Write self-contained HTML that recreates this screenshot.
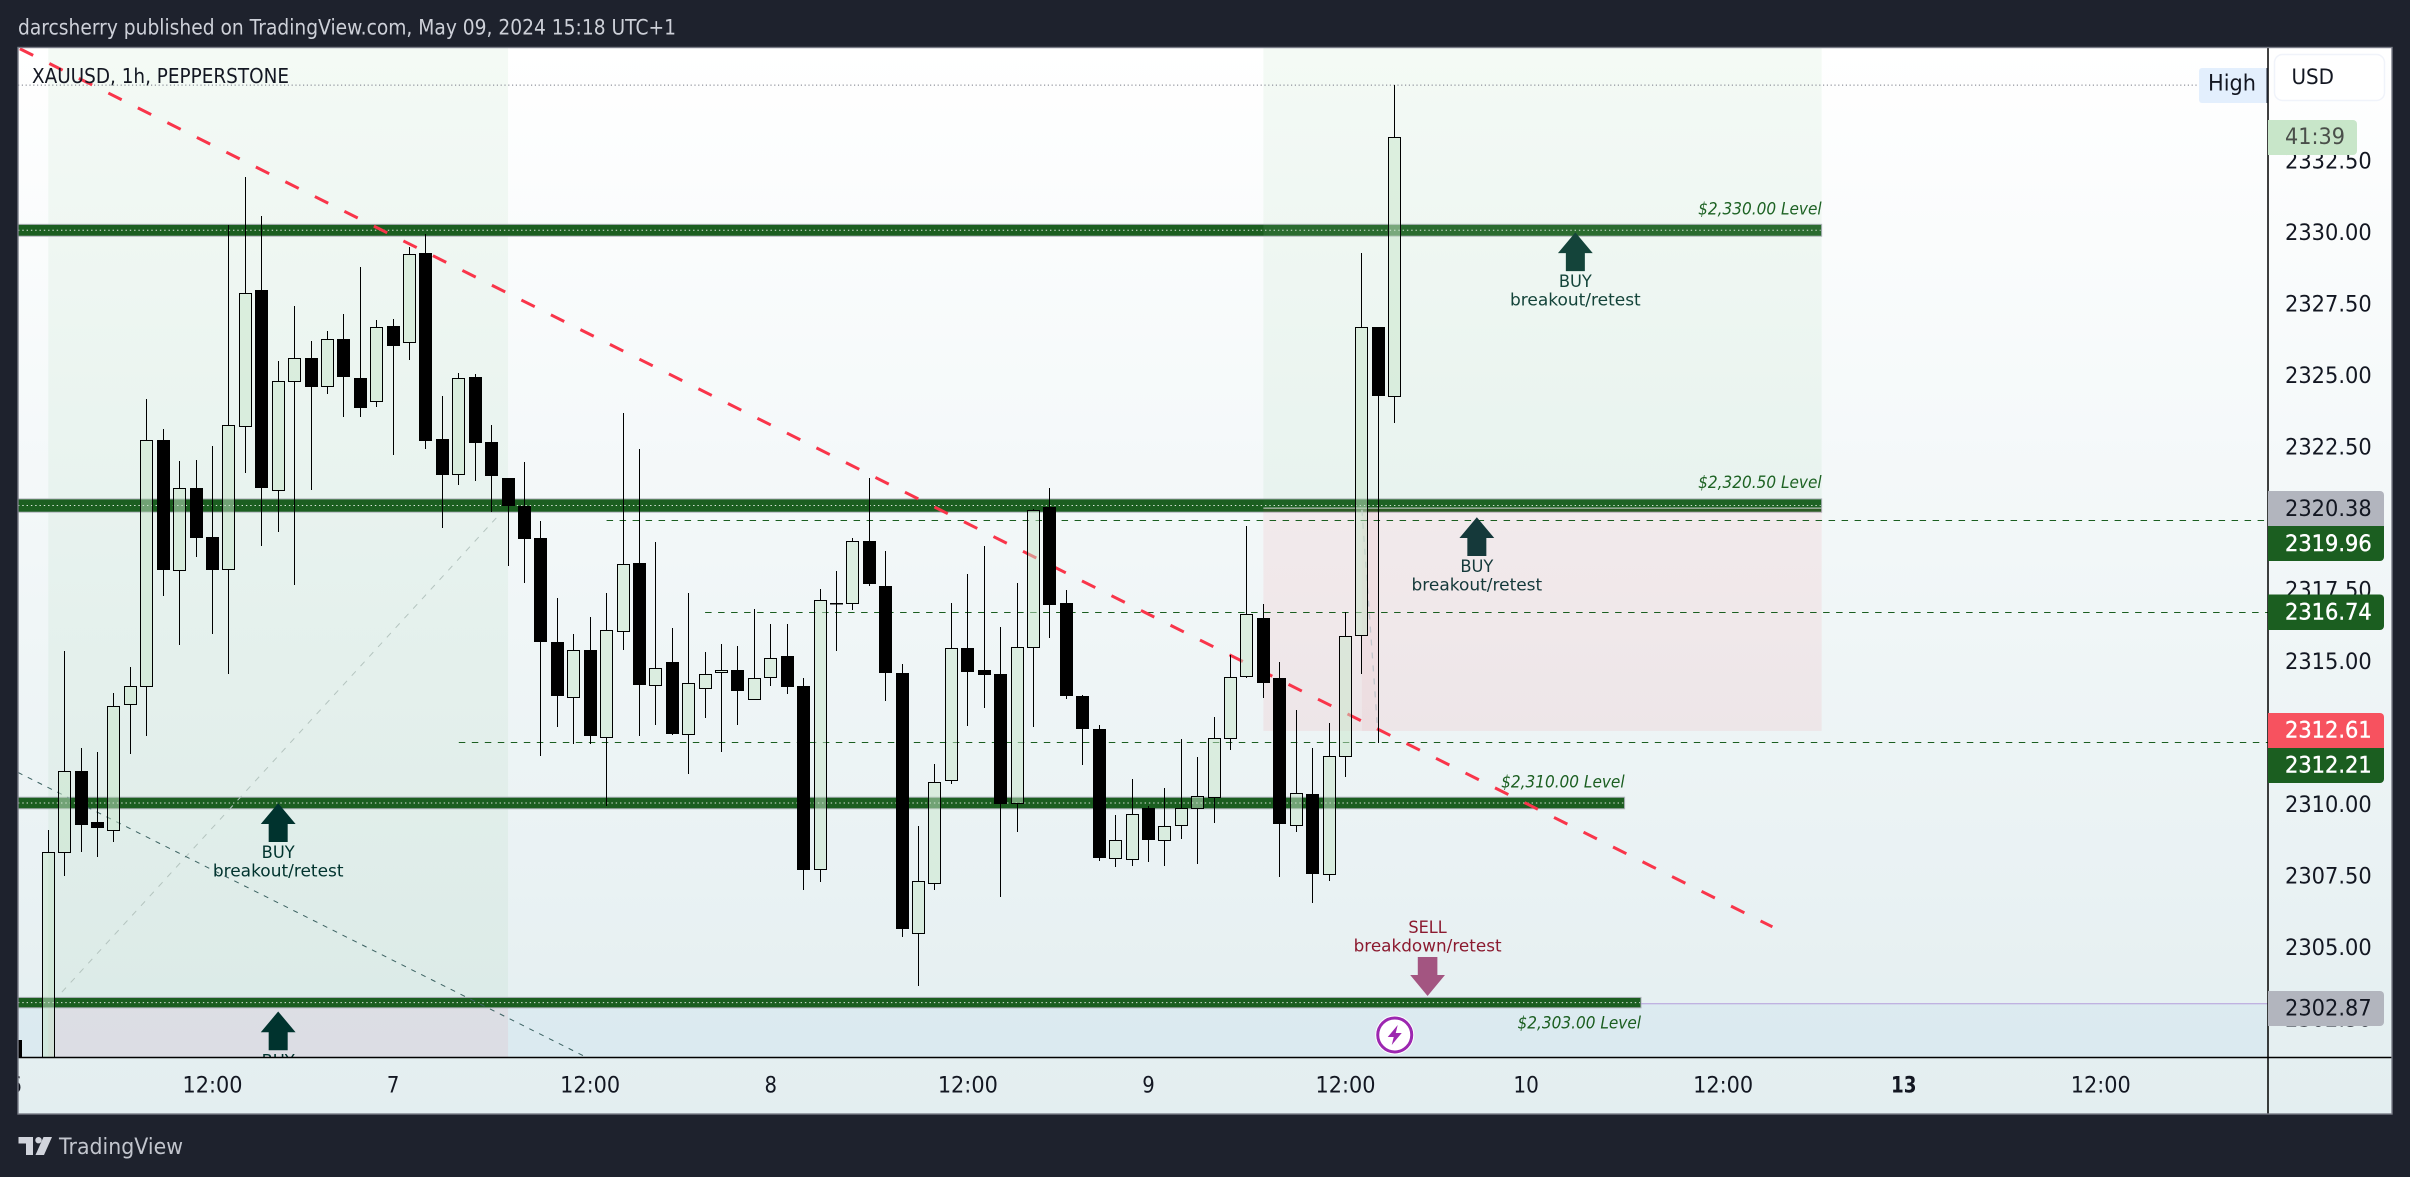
<!DOCTYPE html>
<html lang="en">
<head>
<meta charset="utf-8">
<title>XAUUSD 1h chart</title>
<style>
html,body{margin:0;padding:0;background:#1e222d;width:2410px;height:1177px;overflow:hidden}
svg{display:block}
text{font-family:"DejaVu Sans","Liberation Sans",sans-serif;dominant-baseline:central}
</style>
</head>
<body>
<svg id="chart" xmlns="http://www.w3.org/2000/svg" width="2410" height="1177" viewBox="0 0 2410 1177">
  <defs>
    <linearGradient id="bgGrad" gradientUnits="userSpaceOnUse" x1="0" y1="47" x2="0" y2="1114">
      <stop offset="0" stop-color="#ffffff"/>
      <stop offset="1" stop-color="#e3eef0"/>
    </linearGradient>
    <clipPath id="plotClip"><rect x="18.5" y="48" width="2249.5" height="1009"/></clipPath>
    <clipPath id="frameClip"><rect x="18.5" y="48" width="2373" height="1066"/></clipPath>
  </defs>

  <rect x="0" y="0" width="2410" height="1177" fill="#1e222d"/>
  <text x="18" y="27.5" font-size="21" fill="#cdd0d8" textLength="658" lengthAdjust="spacingAndGlyphs">darcsherry published on TradingView.com, May 09, 2024 15:18 UTC+1</text>
  <rect x="18" y="47.5" width="2374" height="1066.5" fill="url(#bgGrad)"/>

  <g id="plot" clip-path="url(#plotClip)"></g>
  <g id="axes" clip-path="url(#frameClip)"></g>

  <line x1="2268" y1="47.5" x2="2268" y2="1114" stroke="#000" stroke-width="1.5"/>
  <line x1="18" y1="1057.5" x2="2392" y2="1057.5" stroke="#000" stroke-width="1.5"/>

  <g>
    <rect x="2199" y="68" width="69" height="35" rx="3" fill="#e3effd"/>
    <text x="2208" y="84" font-size="22" fill="#131722" textLength="48" lengthAdjust="spacingAndGlyphs">High</text>
    <rect x="2266.5" y="68" width="1.5" height="35" fill="#1e222d"/>
  </g>
  <g>
    <rect x="2274.5" y="54.5" width="110" height="46" rx="8" fill="#fff" stroke="#f0f3fa" stroke-width="1.5"/>
    <text x="2291.5" y="77" font-size="21" fill="#131722" textLength="42.5" lengthAdjust="spacingAndGlyphs">USD</text>
  </g>

  <g id="ticks"></g>

  <g>
    <path d="M2268 120H2353a4 4 0 0 1 4 4V151a4 4 0 0 1-4 4H2268Z" fill="#c8e6c9"/>
    <text x="2285" y="137.5" font-size="22" fill="#4a4f4a" textLength="60" lengthAdjust="spacingAndGlyphs">41:39</text>
  </g>

  <g>
    <path d="M2268 491H2380a4 4 0 0 1 4 4V526H2268Z" fill="#b2b5be"/>
    <text x="2285" y="509" font-size="22.5" fill="#131722" textLength="86.7" lengthAdjust="spacingAndGlyphs">2320.38</text>
  </g>
  <g>
    <path d="M2268 526H2384V557a4 4 0 0 1-4 4H2268Z" fill="#1b5e20"/>
    <text x="2285" y="544" font-size="22.5" fill="#fff" stroke="#fff" stroke-width=".4" textLength="86.7" lengthAdjust="spacingAndGlyphs">2319.96</text>
  </g>
  <g>
    <path d="M2268 594.5H2380a4 4 0 0 1 4 4V626a4 4 0 0 1-4 4H2268Z" fill="#1b5e20"/>
    <text x="2285" y="612.5" font-size="22.5" fill="#fff" stroke="#fff" stroke-width=".4" textLength="86.7" lengthAdjust="spacingAndGlyphs">2316.74</text>
  </g>
  <g>
    <path d="M2268 713H2380a4 4 0 0 1 4 4V748H2268Z" fill="#f7525f"/>
    <text x="2285" y="730.5" font-size="22.5" fill="#fff" stroke="#fff" stroke-width=".4" textLength="86.7" lengthAdjust="spacingAndGlyphs">2312.61</text>
  </g>
  <g>
    <path d="M2268 748H2384V779a4 4 0 0 1-4 4H2268Z" fill="#1b5e20"/>
    <text x="2285" y="765.5" font-size="22.5" fill="#fff" stroke="#fff" stroke-width=".4" textLength="86.7" lengthAdjust="spacingAndGlyphs">2312.21</text>
  </g>
  <g>
    <path d="M2268 991H2380a4 4 0 0 1 4 4V1022a4 4 0 0 1-4 4H2268Z" fill="#b2b5be"/>
    <text x="2285" y="1008.5" font-size="22.5" fill="#131722" textLength="86.7" lengthAdjust="spacingAndGlyphs">2302.87</text>
  </g>

  <rect x="18" y="47.5" width="2374" height="1066.5" fill="none" stroke="#787b86" stroke-width="1.4"/>

  <g>
    <path d="M18.5 1137H33V1155H26V1143.5H18.5Z" fill="#d1d4dc"/>
    <circle cx="38.5" cy="1140.2" r="3.2" fill="#d1d4dc"/>
    <path d="M43.5 1137H52L44 1155H35.5Z" fill="#d1d4dc"/>
    <text x="59" y="1147" font-size="22.5" fill="#c2c5cd" textLength="124" lengthAdjust="spacingAndGlyphs">TradingView</text>
  </g>
</svg>

<script>
// ---- OHLC series (one entry per hourly bar) ----
const opens = [
2301.71,2299.60,2300.00,2308.30,2311.12,2309.34,2309.05,2313.45,2314.08,2322.69,
2318.13,2321.03,2319.29,2318.17,2323.17,2327.94,2320.96,2324.75,2325.56,2324.57,
2326.23,2324.86,2324.05,2326.68,2326.11,2329.23,2322.73,2321.50,2324.90,2322.63,
2321.37,2320.39,2319.27,2315.63,2313.70,2315.34,2312.30,2316.00,2318.39,2314.11,
2314.94,2312.43,2314.01,2314.57,2314.65,2313.65,2314.39,2315.15,2314.09,2307.68,
2316.99,2316.99,2319.16,2317.59,2314.55,2305.44,2307.22,2310.80,2315.42,2314.65,
2314.51,2309.99,2315.45,2320.35,2317.00,2313.74,2312.59,2308.07,2308.03,2309.82,
2308.72,2309.22,2309.82,2310.22,2312.27,2314.43,2316.47,2314.37,2309.22,2310.32,
2307.51,2311.64,2315.87,2326.65,2324.22];
const highs = [
2301.71,2300.20,2309.06,2315.30,2311.91,2311.78,2313.84,2314.75,2324.13,2323.08,
2321.95,2322.00,2322.48,2330.21,2331.88,2330.53,2325.46,2327.38,2326.16,2326.51,
2327.10,2328.74,2326.89,2326.93,2329.44,2329.90,2324.23,2325.04,2325.00,2323.22,
2321.37,2321.93,2319.86,2317.17,2315.91,2316.50,2317.35,2323.64,2322.38,2319.13,
2316.12,2317.35,2315.28,2315.56,2315.50,2316.79,2316.26,2316.25,2314.36,2317.49,
2318.11,2319.27,2321.37,2318.81,2314.86,2309.19,2311.35,2317.00,2318.01,2318.99,
2316.16,2317.70,2320.28,2321.02,2317.45,2313.78,2312.73,2309.58,2310.83,2309.91,
2310.53,2312.24,2311.61,2313.01,2315.19,2319.68,2316.96,2314.93,2313.24,2311.92,
2312.79,2316.67,2329.23,2326.65,2335.10];
const lows = [
2299.50,2299.20,2299.50,2307.46,2308.29,2308.12,2308.65,2311.71,2312.35,2317.24,
2315.51,2318.61,2315.92,2314.52,2321.54,2318.97,2319.48,2317.61,2320.95,2324.31,
2323.51,2323.48,2323.86,2322.16,2325.50,2322.39,2319.62,2321.13,2321.27,2320.18,
2318.30,2317.70,2311.66,2312.67,2312.08,2312.08,2309.88,2315.36,2312.33,2312.74,
2312.37,2311.00,2312.98,2311.80,2312.74,2313.65,2314.10,2313.82,2306.97,2307.25,
2315.32,2316.76,2317.59,2313.58,2305.30,2303.60,2306.97,2310.67,2312.70,2313.32,
2306.73,2309.00,2312.64,2315.78,2313.62,2311.33,2307.96,2307.77,2307.81,2307.95,
2307.81,2308.75,2307.85,2309.31,2311.87,2314.38,2313.68,2307.41,2309.00,2306.51,
2307.28,2310.92,2314.52,2312.11,2323.30];
const closes = [
2300.00,2299.90,2308.28,2311.11,2309.24,2309.14,2313.38,2314.08,2322.68,2318.13,
2321.03,2319.28,2318.15,2323.21,2327.82,2321.02,2324.75,2325.55,2324.56,2326.22,
2324.91,2323.82,2326.64,2325.99,2329.19,2322.67,2321.47,2324.85,2322.60,2321.45,
2320.39,2319.24,2315.64,2313.73,2315.34,2312.33,2316.04,2318.34,2314.14,2314.71,
2312.43,2314.18,2314.50,2314.64,2313.90,2314.37,2315.06,2314.06,2307.66,2317.09,
2316.97,2319.15,2317.64,2314.56,2305.60,2307.27,2310.72,2315.41,2314.59,2314.48,
2309.98,2315.45,2320.24,2316.93,2313.74,2312.57,2308.09,2308.72,2309.60,2308.72,
2309.18,2309.82,2310.23,2312.27,2314.40,2316.60,2314.21,2309.28,2310.34,2307.53,
2311.64,2315.83,2326.64,2324.24,2333.28];

// ---- axis labels ----
const priceTicks = [2332.5,2330,2327.5,2325,2322.5,2320,2317.5,2315,2312.5,2310,2307.5,2305,2302.5];
const timeLabels = ['6','12:00','7','12:00','8','12:00','9','12:00','10','12:00','13','12:00'];
const timeBars = [0,12,23,35,46,58,69,81,92,104,115,127];

// ---- horizontal level zones (prices and end bars) ----
const bandTops = [2330.25,2320.65,2310.22,2303.22];
const bandBottoms = [2329.80,2320.15,2309.78,2302.82];
const bandEndBars = [110,110,98,99];
const levelTexts = ['$2,330.00 Level','$2,320.50 Level','$2,310.00 Level','$2,303.00 Level'];
const levelTextPrices = [2330.77,2321.20,2310.73,2302.31];

// ---- shaded zones ----
const zoneStartBars = [2,2];
const zoneEndBars = [30,110];

// ---- dashed price lines ----
const dashedPrices = [2319.88,2316.67,2312.13];
const dashedStartBars = [36,42,27];

// ---- trend lines: [bar, price] endpoints ----
const redTrendBars = [-1.53,107];
const redTrendPrices = [2336.89,2305.67];
const darkTrendBars = [0.15,34.56];
const darkTrendPrices = [2311.07,2301.17];
const grayTrendBars = [2.83,29.35];
const grayTrendPrices = [2303.39,2320.01];
const curveTrendBars = [82,82.93];
const curveTrendPrices = [2320.25,2312.80];

// ---- arrows ----
const buyArrowBars = [16,16,89,95];
const buyArrowPrices = [2309.99,2302.71,2319.99,2329.95];
const buyArrowColors = ['#00332e','#00332e','#15393a','#14443a'];
const sellArrowBar = 86;
const sellArrowPrice = 2303.25;
const alertBar = 84;
const alertPrice = 2301.89;

// ---- axis functions ----
function xAt(bar){ return 15.46 + 16.42 * bar; }
function yAt(price){ return 803 - (price - 2310) * 28.6; }

const NS = 'http://www.w3.org/2000/svg';
const plot = document.getElementById('plot');
const axes = document.getElementById('axes');
const ticks = document.getElementById('ticks');
function mk(tag, attrs, parent, txt){
  const e = document.createElementNS(NS, tag);
  for (const k in attrs) e.setAttribute(k, attrs[k]);
  if (txt !== undefined) e.textContent = txt;
  parent.appendChild(e);
  return e;
}
let el;

// bottom tint below the purple level
el = mk('rect',{x:18,y:yAt(2302.98),width:2250,height:60,fill:'rgba(33,150,243,.05)'},plot);



// left zones (under bands)
el = mk('rect',{x:xAt(zoneStartBars[0]),y:40,width:xAt(zoneEndBars[0])-xAt(zoneStartBars[0]),height:yAt(2303.04)-40,fill:'rgba(76,175,80,.06)'},plot);


el = mk('rect',{x:xAt(zoneStartBars[0]),y:yAt(2303.04),width:xAt(zoneEndBars[0])-xAt(zoneStartBars[0]),height:70,fill:'rgba(242,54,69,.07)'},plot);



// level bands
bandTops.forEach(function(top,i){
  const yt = yAt(top), yb = yAt(bandBottoms[i]), xe = xAt(bandEndBars[i]);
  el = mk('rect',{x:0,y:yt+.5,width:xe,height:yb-yt-1,fill:'#1b5e20',stroke:'#b2b5be','stroke-width':1},plot);
  
  
  el = mk('line',{x1:18,x2:xe-1,y1:(yt+yb)/2,y2:(yt+yb)/2,stroke:'#ffffff','stroke-opacity':.85,'stroke-width':1,'stroke-dasharray':'1.4 2.9'},plot);
  
  
  el = mk('text',{x:xe,y:yAt(levelTextPrices[i]),'text-anchor':'end','font-size':16.5,'font-style':'italic',fill:'#1b5e20',textLength:123.5,lengthAdjust:'spacingAndGlyphs'},plot,levelTexts[i]);
  
  
});

// right zones (over bands)
el = mk('rect',{x:xAt(76),y:40,width:xAt(zoneEndBars[1])-xAt(76),height:yAt(2320.31)-40,fill:'rgba(76,175,80,.06)'},plot);


el = mk('rect',{x:xAt(76),y:yAt(2320.31),width:xAt(zoneEndBars[1])-xAt(76),height:yAt(2312.52)-yAt(2320.31),fill:'rgba(242,54,69,.07)'},plot);


el = mk('rect',{x:xAt(82),y:yAt(2320.31),width:xAt(83)-xAt(82),height:yAt(2312.52)-yAt(2320.31),fill:'rgba(242,54,69,.05)'},plot);


el = mk('rect',{x:xAt(76),y:yAt(2330.25),width:xAt(110)-xAt(76),height:yAt(2329.80)-yAt(2330.25),fill:'rgba(255,255,255,.06)'},plot);


el = mk('line',{x1:xAt(76),x2:xAt(110),y1:yAt(2320.31),y2:yAt(2320.31),stroke:'#b5c0b5','stroke-width':1.3},plot);



// purple level extension
el = mk('line',{x1:xAt(99),x2:2268,y1:yAt(2302.98),y2:yAt(2302.98),stroke:'#b39ddb','stroke-width':1},plot);



// high line
const sessionHigh = Math.max.apply(null, highs);
el = mk('line',{x1:18,x2:2199,y1:yAt(sessionHigh),y2:yAt(sessionHigh),stroke:'#787b86','stroke-width':1,'stroke-dasharray':'1.2 2.6'},plot);



// dashed green price lines
dashedPrices.forEach(function(p,i){
  el = mk('line',{x1:xAt(dashedStartBars[i]),x2:2268,y1:Math.round(yAt(p))+.5,y2:Math.round(yAt(p))+.5,stroke:'#1b5e20','stroke-width':1,'stroke-dasharray':'6.5 6.5'},plot);
  
  
});

// thin trend lines
el = mk('line',{x1:xAt(grayTrendBars[0]),y1:yAt(grayTrendPrices[0]),x2:xAt(grayTrendBars[1]),y2:yAt(grayTrendPrices[1]),stroke:'#b4c4bf','stroke-width':1,'stroke-dasharray':'6 7'},plot);


el = mk('line',{x1:xAt(darkTrendBars[0]),y1:yAt(darkTrendPrices[0]),x2:xAt(darkTrendBars[1]),y2:yAt(darkTrendPrices[1]),stroke:'#3c6262','stroke-width':1,'stroke-dasharray':'5 6'},plot);


el = mk('line',{x1:xAt(curveTrendBars[0]),y1:yAt(curveTrendPrices[0]),x2:xAt(curveTrendBars[1]),y2:yAt(curveTrendPrices[1]),stroke:'#c2c6cc','stroke-width':1.3,'stroke-dasharray':'6 7'},plot);



// red trend line
el = mk('line',{x1:xAt(redTrendBars[0]),y1:yAt(redTrendPrices[0]),x2:xAt(redTrendBars[1]),y2:yAt(redTrendPrices[1]),stroke:'#f9354a','stroke-width':3,'stroke-dasharray':'14.9 18.1'},plot);



// candles
opens.forEach(function(o,i){
  const c = closes[i];
  const bx = Math.round(xAt(i) - .5) + .5;
  const up = c >= o;
  const top = Math.round(yAt(Math.max(o,c)));
  const bot = Math.round(yAt(Math.min(o,c)));
  const hi = Math.round(yAt(highs[i]));
  const lo = Math.round(yAt(lows[i]));
  const g = mk('g',{},plot);
  
  
  el = mk('line',{x1:bx,x2:bx,y1:hi,y2:top,stroke:'#000','stroke-width':1},g);
  
  
  el = mk('line',{x1:bx,x2:bx,y1:bot,y2:lo,stroke:'#000','stroke-width':1},g);
  
  
  if (up) {
    el = mk('rect',{x:bx-6,y:top+.5,width:12,height:Math.max(bot-top,1),fill:'rgba(200,230,201,.5)',stroke:'#000','stroke-width':1},g);
    
    
  } else {
    el = mk('rect',{x:bx-6.5,y:top,width:13,height:Math.max(bot-top,1.5),fill:'#000'},g);
    
    
  }
});

// buy arrows
buyArrowBars.forEach(function(b,i){
  const x = xAt(b), t = yAt(buyArrowPrices[i]), col = buyArrowColors[i];
  const pts = [[x,t],[x+17.4,t+20.7],[x+9.5,t+20.7],[x+9.5,t+38.7],[x-9.5,t+38.7],[x-9.5,t+20.7],[x-17.4,t+20.7]];
  el = mk('polygon',{points:pts.map(function(q){return q.join(',');}).join(' '),fill:col},plot);
  
  
  el = mk('text',{x:x,y:t+49.8,'text-anchor':'middle','font-size':17,fill:col,textLength:33,lengthAdjust:'spacingAndGlyphs'},plot,'BUY');
  
  
  el = mk('text',{x:x,y:t+68.2,'text-anchor':'middle','font-size':17,fill:col,textLength:130.7,lengthAdjust:'spacingAndGlyphs'},plot,'breakout/retest');
  
  
});

// sell arrow
(function(){
  const x = xAt(sellArrowBar), t = yAt(sellArrowPrice);
  const pts = [[x,t],[x+17.4,t-21],[x+9.8,t-21],[x+9.8,t-39],[x-9.8,t-39],[x-9.8,t-21],[x-17.4,t-21]];
  el = mk('polygon',{points:pts.map(function(q){return q.join(',');}).join(' '),fill:'#a35581'},plot);
  
  
  el = mk('text',{x:x,y:t-68,'text-anchor':'middle','font-size':17,fill:'#8b1a2f',textLength:38.4,lengthAdjust:'spacingAndGlyphs'},plot,'SELL');
  
  
  el = mk('text',{x:x,y:t-49.6,'text-anchor':'middle','font-size':17,fill:'#8b1a2f',textLength:148,lengthAdjust:'spacingAndGlyphs'},plot,'breakdown/retest');
  
  
})();

// alert icon
(function(){
  const x = xAt(alertBar), cy = yAt(alertPrice);
  el = mk('circle',{cx:x,cy:cy,r:19.5,fill:'#fff'},plot);
  
  
  el = mk('circle',{cx:x,cy:cy,r:17,fill:'#fff',stroke:'#9c27b0','stroke-width':3},plot);
  
  
  const bolt = [[3,-10],[-7,2],[-1,2],[-3,10],[7,-2],[1,-2]];
  el = mk('polygon',{points:bolt.map(function(q){return (x+q[0])+','+(cy+q[1]);}).join(' '),fill:'#9c27b0'},plot);
  
  
})();

// symbol text
el = mk('text',{x:32,y:75.8,'font-size':20,fill:'#131722',textLength:257,lengthAdjust:'spacingAndGlyphs'},plot,'XAUUSD, 1h, PEPPERSTONE');



// price axis ticks
priceTicks.forEach(function(p){
  el = mk('text',{x:2285,y:yAt(p)+2,'font-size':22.5,fill:'#131722',textLength:86.7,lengthAdjust:'spacingAndGlyphs'},ticks,p.toFixed(2));
  
  
});

// time axis ticks
timeLabels.forEach(function(t,i){
  const len = t.length === 5 ? 60 : (t.length === 2 ? 25.5 : 12.5);
  el = mk('text',{x:xAt(timeBars[i]),y:1085.7,'text-anchor':'middle','font-size':22.5,fill:'#131722','font-weight':t==='13'?'bold':'normal',textLength:len,lengthAdjust:'spacingAndGlyphs'},axes,t);
  
  
});
</script>
</body>
</html>
